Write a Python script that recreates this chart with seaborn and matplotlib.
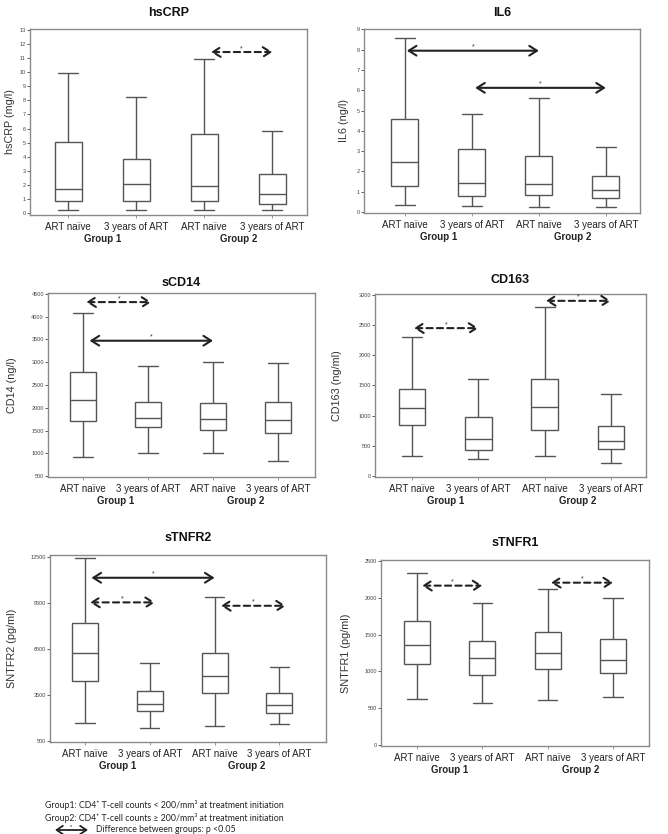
import numpy as np
import pandas as pd
import matplotlib
matplotlib.use("Agg")
import matplotlib.pyplot as plt
from matplotlib.patches import FancyArrowPatch
import seaborn as sns

# categories on every panel
categories = ["ART naïve", "3 years of ART", "ART naïve", "3 years of ART"]
box_keys = ["g1_naive", "g1_art", "g2_naive", "g2_art"]
groups = ["Group 1", "Group 2"]

# five-number summaries: min, Q1, median, Q3, max
hscrp = [[0.2, 0.9, 1.75, 5.05, 9.9], [0.2, 0.9, 2.1, 3.85, 8.2],
         [0.2, 0.9, 1.9, 5.6, 10.9], [0.2, 0.65, 1.35, 2.8, 5.85]]
il6 = [[0.35, 1.3, 2.45, 4.6, 8.6], [0.3, 0.8, 1.45, 3.1, 4.85],
       [0.25, 0.82, 1.4, 2.75, 5.6], [0.25, 0.68, 1.1, 1.75, 3.2]]
scd14 = [[930, 1710, 2170, 2780, 4080], [1020, 1570, 1770, 2130, 2920],
         [1020, 1510, 1760, 2100, 3010], [840, 1450, 1730, 2130, 2980]]
cd163 = [[340, 840, 1130, 1440, 2300], [290, 430, 610, 980, 1600],
         [340, 760, 1140, 1600, 2800], [210, 450, 580, 820, 1360]]
stnfr2 = [[1700, 4450, 6250, 8170, 12400], [1370, 2480, 2950, 3760, 5600],
          [1520, 3670, 4750, 6250, 9850], [1610, 2320, 2870, 3670, 5340]]
stnfr1 = [[628, 1107, 1360, 1680, 2330], [574, 954, 1180, 1410, 1930],
          [610, 1040, 1252, 1537, 2110], [660, 981, 1153, 1446, 1990]]

# significance arrows: (from, to, level, dashed)
hscrp_arrows = [(2.1, 3.0, 11.42, True)]
il6_arrows = [(0.03, 2.0, 7.95, False), (1.05, 3.0, 6.12, False)]
scd14_arrows = [(0.05, 1.05, 4316, True), (0.1, 2.0, 3470, False)]
cd163_arrows = [(0.03, 1.0, 2446, True), (2.02, 3.0, 2897, True)]
stnfr2_arrows = [(0.1, 2.0, 11130, False), (0.08, 1.08, 9530, True), (2.1, 3.1, 9310, True)]
stnfr1_arrows = [(0.08, 1.0, 2162, True), (2.05, 3.0, 2202, True)]

sns.set_style("ticks")
plt.rcParams["font.family"] = ["Liberation Sans", "DejaVu Sans"]

W, H = 668, 834
fig = plt.figure(figsize=(W / 100, H / 100), dpi=100)

# title, ylabel, data, arrows, yticks, ylim, xlim, box px (l, t, r, b), title y px, ylabel offset px
panels = [
    ("hsCRP", "hsCRP (mg/l)", hscrp, hscrp_arrows, np.arange(0, 14, 1), (-0.12, 13.05),
     (-0.56, 3.51), (30, 29, 307, 215), 13, 15),
    ("IL6", "IL6 (ng/l)", il6, il6_arrows, np.arange(0, 10, 1), (-0.05, 9.02),
     (-0.61, 3.51), (364, 29, 640, 213), 13, 15),
    ("sCD14", "CD14 (ng/l)", scd14, scd14_arrows, np.arange(500, 5000, 500), (485, 4515),
     (-0.54, 3.57), (48, 293, 315, 477), 283, 31),
    ("CD163", "CD163 (ng/ml)", cd163, cd163_arrows, np.arange(0, 3500, 500), (-15, 3010),
     (-0.56, 3.53), (375, 294, 646, 477), 280, 33),
    ("sTNFR2", "SNTFR2 (pg/ml)", stnfr2, stnfr2_arrows, np.arange(500, 13000, 3000), (457, 12610),
     (-0.54, 3.72), (50, 555, 326, 742), 538, 33),
    ("sTNFR1", "SNTFR1 (pg/ml)", stnfr1, stnfr1_arrows, np.arange(0, 3000, 500), (-9, 2509),
     (-0.55, 3.55), (381, 560, 649, 746), 543, 30),
]

for title, ylabel, values, arrows, yticks, ylim, xlim, (l, t, r, b), ty, yoff in panels:
    ax = fig.add_axes([l / W, 1 - b / H, (r - l) / W, (b - t) / H])
    df = pd.DataFrame({"cond": np.repeat(box_keys, 5),
                       "value": np.concatenate(values)})
    sns.boxplot(data=df, x="cond", y="value", order=box_keys, ax=ax,
                width=0.4, whis=np.inf, color="white", linecolor="#555555",
                linewidth=1.0, capwidths=0.3, showfliers=False)
    ax.set_xlim(*xlim)
    ax.set_ylim(*ylim)
    ax.set_yticks(yticks)
    ax.set_xticks(range(4))
    ax.set_xticklabels(categories)
    ax.set_xlabel("")
    ax.set_ylabel(ylabel, fontsize=7.8, color="#333333")
    ax.yaxis.set_label_coords(-yoff / (r - l), 0.5)
    ax.tick_params(axis="y", labelsize=4, length=2, width=0.6, pad=1, colors="#444444")
    ax.tick_params(axis="x", labelsize=7, length=2, width=0.6, pad=3,
                   colors="#888888", labelcolor="#222222")
    for s in ax.spines.values():
        s.set_visible(True)
        s.set_color("#8a8a8a")
        s.set_linewidth(1.0)

    for i, g in enumerate(groups):
        ax.annotate(g, xy=(0.5 + 2 * i, 0), xycoords=ax.get_xaxis_transform(),
                    xytext=(0, -24 * 0.72), textcoords="offset points",
                    ha="center", va="center", fontsize=7, fontweight="bold", color="#222222")

    for x0, x1, y, dashed in arrows:
        ax.annotate("", xy=(x1, y), xytext=(x0, y),
                    arrowprops=dict(arrowstyle="<->,head_length=0.55,head_width=0.35",
                                    lw=1.5, color="#222222",
                                    linestyle=(0, (3, 2)) if dashed else "-",
                                    shrinkA=0, shrinkB=0, mutation_scale=10))
        ax.text((x0 + x1) / 2, y, "*", ha="center", va="bottom", fontsize=5, color="#333333")

    fig.text((l + r) / 2 / W, 1 - ty / H, title, ha="center", va="center",
             fontsize=9, fontweight="bold", color="#111111")

# footnote
foot_font = ["Lato", "DejaVu Sans"]
fig.text(45 / W, 1 - 805 / H, "Group1: CD4\u207a T-cell counts < 200/mm\u00b3 at treatment initiation",
         fontsize=6.3, family=foot_font, va="center", color="#222222")
fig.text(45 / W, 1 - 818 / H, "Group2: CD4\u207a T-cell counts \u2265 200/mm\u00b3 at treatment initiation",
         fontsize=6.3, family=foot_font, va="center", color="#222222")
fig.text(96 / W, 1 - 830 / H, "Difference between groups: p <0.05",
         fontsize=6.3, family=foot_font, va="center", color="#222222")
fig.patches.append(FancyArrowPatch(
    (55 / W, 1 - 830 / H), (88 / W, 1 - 830 / H), transform=fig.transFigure,
    arrowstyle="<->,head_length=0.45,head_width=0.3", mutation_scale=10,
    lw=1.3, color="#222222", shrinkA=0, shrinkB=0))
fig.text(71 / W, 1 - 827 / H, "*", fontsize=4, ha="center", va="center", color="#222222")

fig.savefig("out.png", dpi=100, facecolor="white")
